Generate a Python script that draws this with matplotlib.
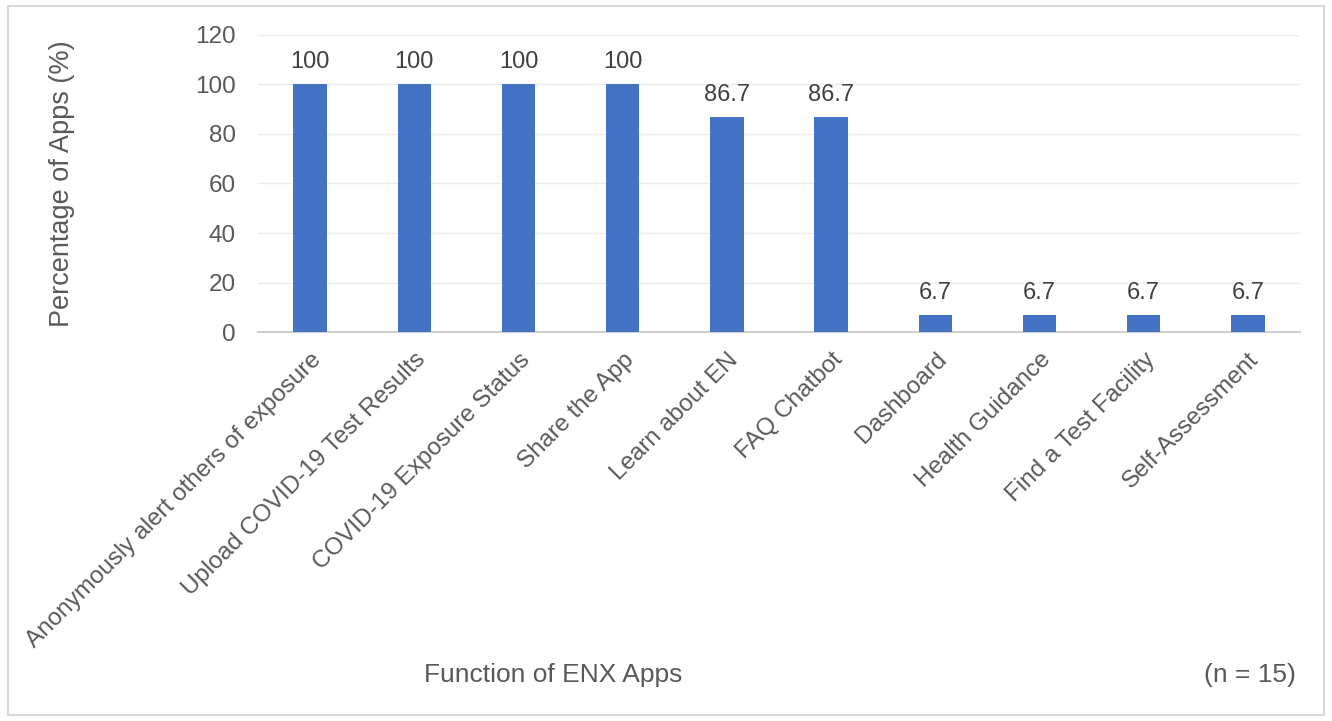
import matplotlib
matplotlib.use('Agg')
import matplotlib.pyplot as plt
from matplotlib.patches import Rectangle

# Data
functions = [
    'Anonymously alert others of exposure',
    'Upload COVID-19 Test Results',
    'COVID-19 Exposure Status',
    'Share the App',
    'Learn about EN',
    'FAQ Chatbot',
    'Dashboard',
    'Health Guidance',
    'Find a Test Facility',
    'Self-Assessment',
]
percentages = [100, 100, 100, 100, 86.7, 86.7, 6.7, 6.7, 6.7, 6.7]
y_ticks = [0, 20, 40, 60, 80, 100, 120]

text_color = '#595959'
bar_color = '#4472C4'

plt.rcParams['font.family'] = ['Liberation Sans', 'DejaVu Sans']

fig = plt.figure(figsize=(13.32, 7.21), dpi=100)
ax = fig.add_axes([0.1937, 0.5395, 0.7823, 0.412])

x = range(len(functions))
bars = ax.bar(x, percentages, width=0.32, color=bar_color, zorder=3)

for b, v in zip(bars, percentages):
    label = f'{v:g}'
    ax.text(b.get_x() + b.get_width() / 2, v + 4.5, label,
            ha='center', va='bottom', fontsize=17, color='#404040')

ax.set_xlim(-0.5, len(functions) - 0.5)
ax.set_ylim(0, 120)
ax.set_yticks(y_ticks)
ax.yaxis.grid(True, color='#EBEBEB', linewidth=1, zorder=0)
ax.set_axisbelow(True)

for side in ['top', 'right', 'left']:
    ax.spines[side].set_visible(False)
ax.spines['bottom'].set_color('#D0D0D0')
ax.spines['bottom'].set_linewidth(1.5)

ax.tick_params(axis='both', length=0, labelsize=17.5, labelcolor=text_color)
ax.tick_params(axis='y', pad=16)
ax.set_xticks(list(x))
ax.set_xticklabels(functions, rotation=45, ha='right', rotation_mode='anchor')
ax.tick_params(axis='x', pad=12)

ax.set_ylabel('Percentage of Apps (%)', fontsize=19.5, color=text_color)
ax.yaxis.set_label_coords(-0.176, 0.5)

fig.text(553 / 1332, 1 - 675 / 721, 'Function of ENX Apps', ha='center', va='center',
         fontsize=19, color=text_color)
fig.text(1250 / 1332, 1 - 675 / 721, '(n = 15)', ha='center', va='center',
         fontsize=19, color=text_color)

# light border around the chart area
fig.patches.append(Rectangle((0.006, 0.008), 0.988, 0.984, transform=fig.transFigure,
                             fill=False, edgecolor='#D9D9D9', linewidth=1.5))

fig.savefig('out.png', dpi=100)
